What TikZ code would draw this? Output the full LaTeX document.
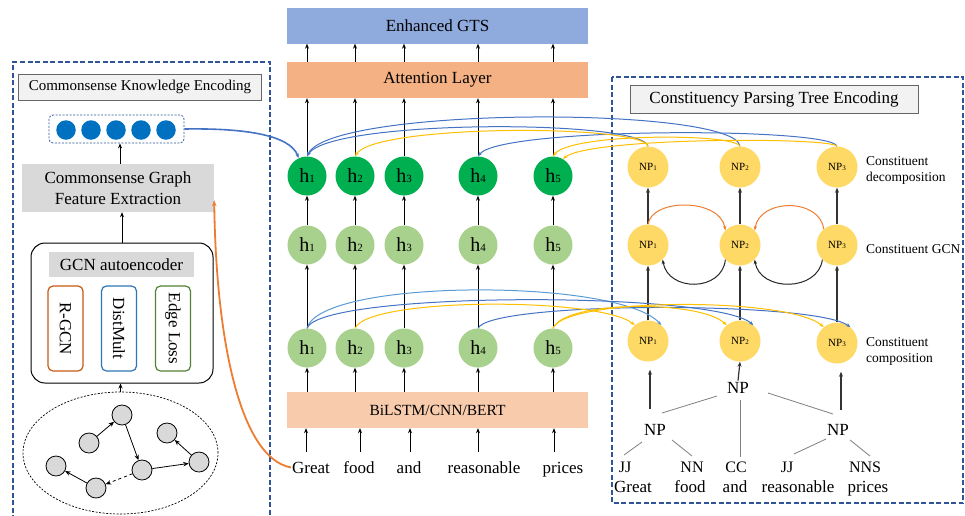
\documentclass[tikz,border=0pt]{standalone}
\usepackage{fontspec}
\setmainfont{Liberation Serif}
\usetikzlibrary{arrows.meta,shapes.geometric}
\definecolor{gtsblue}{HTML}{8FAADC}
\definecolor{attor}{HTML}{F4B183}
\definecolor{bilor}{HTML}{F8CBAD}
\definecolor{dgreen}{HTML}{00B050}
\definecolor{lgreen}{HTML}{A9D18E}
\definecolor{npyel}{HTML}{FFD966}
\definecolor{boxblue}{HTML}{2F5597}
\definecolor{dotblue}{HTML}{0070C0}
\definecolor{cblue}{HTML}{4472C4}
\definecolor{lblue}{HTML}{5B9BD5}
\definecolor{cyel}{HTML}{FFC000}
\definecolor{corange}{HTML}{ED7D31}
\definecolor{lgray}{HTML}{F2F2F2}
\definecolor{mgray}{HTML}{D9D9D9}
\definecolor{rgcn}{HTML}{C55A11}
\definecolor{dmult}{HTML}{2E75B6}
\definecolor{eloss}{HTML}{548235}
\newcommand{\myfs}[1]{\fontsize{#1}{#1}\selectfont}
\newcommand{\hlab}[1]{h{\myfs{11}#1}}
\newcommand{\nplab}[1]{NP{\myfs{7}#1}}
\begin{document}
\begin{tikzpicture}[x=1pt,y=-1pt,
  arr/.style={-{Stealth[length=5pt,width=4pt]},line width=1pt},
  carr/.style={-{Stealth[length=4.5pt,width=3.5pt]},line width=1pt},
  varr/.style={-{Stealth[length=5pt,width=4pt]},line width=1.2pt,draw=black!80},
  layer/.style={minimum width=301pt,minimum height=36pt,inner sep=0pt,font=\myfs{17}},
  hdark/.style={circle,fill=dgreen,minimum size=39pt,inner sep=0pt,font=\myfs{20}},
  hlight/.style={circle,fill=lgreen,minimum size=39pt,inner sep=0pt,font=\myfs{20}},
  npn/.style={circle,fill=npyel,minimum size=41pt,inner sep=0pt,font=\myfs{11}},
  word/.style={anchor=base,font=\myfs{17},inner sep=1pt},
  ptag/.style={anchor=base,font=\myfs{16},inner sep=1pt},
  dbox/.style={draw=boxblue,line width=1.8pt,dash pattern=on 5pt off 2.5pt},
  titlebox/.style={draw=black!60,fill=lgray,line width=0.8pt,inner sep=0pt},
  gnode/.style={circle,draw=black,line width=0.8pt,fill=mgray,minimum size=20pt,inner sep=0pt},
  gedge/.style={-{Stealth[length=5.5pt,width=4.5pt]},line width=0.8pt},
  treeline/.style={draw=black!50,line width=0.8pt},
  sidelab/.style={anchor=west,align=left,font=\fontsize{13.5}{16}\selectfont,inner sep=0pt},
  vbox/.style={rounded corners=5pt,line width=1.2pt,rotate=-90,minimum width=85pt,minimum height=35pt,inner sep=0pt,font=\myfs{17}}
]
\useasboundingbox (0,0) rectangle (965,515);
\fill[white] (0,0) rectangle (965,515);

% ---------------- left panel ----------------
\draw[dbox] (13,520) -- (13,62) -- (270,62) -- (270,520);
\node[titlebox,minimum width=243pt,minimum height=26pt,font=\myfs{15}] (cke) at (140,87) {Commonsense Knowledge Encoding};
\node[draw=boxblue,dash pattern=on 2pt off 1.5pt,line width=0.8pt,rounded corners=4pt,minimum width=135pt,minimum height=28pt] (dots) at (116.5,129) {};
\foreach \i/\x in {1/66,2/91,3/116,4/141,5/166}
  \node[circle,fill=dotblue,minimum size=19.5pt,inner sep=0pt] (dot\i) at (\x,130) {};
\node[fill=mgray,minimum width=192pt,minimum height=48pt,align=center,font=\fontsize{17}{21}\selectfont,inner sep=0pt] (fe) at (118,188) {Commonsense Graph\\Feature Extraction};
\draw[arr] ([xshift=2pt]fe.north) -- ([xshift=2pt]fe.north |- dots.south);

\node[draw,line width=1pt,rounded corners=14pt,minimum width=182pt,minimum height=140pt] (gcn) at (122,313) {};
\node[fill=mgray,minimum width=145pt,minimum height=25pt,font=\myfs{17},inner sep=0pt] (gcnl) at (121.5,264.5) {GCN autoencoder};
\node[vbox,draw=rgcn] (rg) at (65.5,328.5) {R-GCN};
\node[vbox,draw=dmult] (dm) at (119,328.5) {DistMult};
\node[vbox,draw=eloss] (el) at (173,328.5) {Edge Loss};
\draw[arr] (gcn.north) -- (gcn.north |- fe.south);

\node[ellipse,draw,dash pattern=on 2pt off 1.5pt,line width=0.7pt,minimum width=195pt,minimum height=122pt,inner sep=0pt] (kg) at (120.5,453) {};
\draw[arr] (kg.north) -- (kg.north |- gcn.south);
\node[gnode] (ga) at (122,415) {};
\node[gnode] (gb) at (89,443) {};
\node[gnode] (gc) at (167,433) {};
\node[gnode] (gd) at (142,470) {};
\node[gnode] (ge) at (199,462) {};
\node[gnode] (gf) at (56,466) {};
\node[gnode] (gg) at (96,488) {};
\draw[gedge] (gb) -- (ga);
\draw[gedge] (ga) -- (gd);
\draw[gedge] (gd) -- (ge);
\draw[gedge] (ge) -- (gc);
\draw[gedge] (gg) -- (gf);
\draw[gedge,dashed] (gd) -- (gg);

% ---------------- middle ----------------
\node[layer,fill=gtsblue] (gts) at (437.5,25.5) {Enhanced GTS};
\node[layer,fill=attor] (att) at (437.5,80) {Attention Layer};
\node[layer,fill=bilor,font=\myfs{15.5}] (bil) at (437.5,410) {BiLSTM/CNN/BERT};

\foreach \i/\x in {1/307,2/355,3/404,4/478,5/553}{
  \node[hdark] (k\i) at (\x,176) {\hlab{\i}};
  \node[hlight] (m\i) at (\x,245) {\hlab{\i}};
  \node[hlight] (b\i) at (\x,348) {\hlab{\i}};
  \draw[arr] (b\i |- bil.north) -- (b\i.south);
  \draw[arr] (b\i.north) -- (m\i.south);
  \draw[arr] (m\i.north) -- (k\i.south);
  \draw[arr] (k\i.north) -- (k\i |- att.south);
  \draw[arr] (k\i |- att.north) -- (k\i |- gts.south);
}
\node[word] (w1) at (311,473) {Great};
\node[word] (w2) at (359,473) {food};
\node[word] (w3) at (409,473) {and};
\node[word] (w4) at (484,473) {reasonable};
\node[word] (w5) at (563,473) {prices};
\foreach \i/\x in {1/306,2/360,3/410,4/478,5/554}{
  \coordinate (t\i) at (\x,452);
  \draw[arr] (t\i) -- (t\i |- bil.south);
}

% ---------------- right panel ----------------
\draw[dbox] (612,77) rectangle (963,503);
\node[titlebox,minimum width=288pt,minimum height=28pt,font=\myfs{17}] (cpt) at (774,99) {Constituency Parsing Tree Encoding};
\node[npn] (n1d) at (648,167) {\nplab{1}};
\node[npn] (n2d) at (740,167) {\nplab{2}};
\node[npn] (n3d) at (837,167) {\nplab{3}};
\node[npn] (g1) at (648,245) {\nplab{1}};
\node[npn] (g2) at (740,245) {\nplab{2}};
\node[npn] (g3) at (837,245) {\nplab{3}};
\node[npn] (c1) at (648,341) {\nplab{1}};
\node[npn] (c2) at (740,341) {\nplab{2}};
\node[npn] (c3) at (837,343) {\nplab{3}};
\foreach \i in {1,2,3}{
  \draw[varr] (g\i.north) -- (n\i d.south);
  \draw[varr] (c\i.north) -- (g\i.south);
}
\node[sidelab] (lab1) at (866,170) {Constituent\\decomposition};
\node[sidelab] (lab2) at (866,249) {Constituent GCN};
\node[sidelab] (lab3) at (866,351) {Constituent\\composition};

% GCN interactions
\draw[carr,corange] (g1.north) .. controls (652,198) and (720,198) .. (g2.135);
\draw[carr,corange] (g3.130) .. controls (820,198) and (760,198) .. (g2.45);
\draw[carr,black!85] (g2.225) .. controls (722,292) and (668,292) .. (g1.315);
\draw[carr,black!85] (g3.225) .. controls (818,292) and (760,292) .. (g2.315);

% parse tree
\node[word] (tnp) at (738,393) {NP};
\node[word] (tnpl) at (655,435) {NP};
\node[word] (tnpr) at (838,435) {NP};
\node[ptag] (tjj) at (625,472) {JJ};
\node[ptag] (tnn) at (692,472) {NN};
\node[ptag] (tcc) at (736,472) {CC};
\node[ptag] (tjj2) at (787,472) {JJ};
\node[ptag] (tnns) at (865,472) {NNS};
\node[word] (pw1) at (633,492) {Great};
\node[word] (pw2) at (690,492) {food};
\node[word] (pw3) at (735,492) {and};
\node[word] (pw4) at (798,492) {reasonable};
\node[word] (pw5) at (868,492) {prices};
\draw[treeline] ([shift={(-21,3)}]tnp.base) -- ([shift={(7,-22)}]tnpl.base);
\draw[treeline] ([shift={(2,7)}]tnp.base) -- ([shift={(4,-15)}]tcc.base);
\draw[treeline] ([shift={(30,0)}]tnp.base) -- ([shift={(-5,-21)}]tnpr.base);
\draw[treeline] ([shift={(-13,7)}]tnpl.base) -- ([shift={(-1,-17)}]tjj.base);
\draw[treeline] ([shift={(17,5)}]tnpl.base) -- ([shift={(0,-16)}]tnn.base);
\draw[treeline] ([shift={(-12,4)}]tnpr.base) -- ([shift={(7,-18)}]tjj2.base);
\draw[treeline] ([shift={(12,5)}]tnpr.base) -- ([shift={(5,-16)}]tnns.base);
\draw[varr] (tnp.north) -- (c2.south);
\coordinate (u1) at (650,409);
\coordinate (u3) at (841,410);
\draw[varr,shorten >=8pt] (u1) -- (u1 |- c1.south);
\draw[varr,shorten >=8pt] (u3) -- (u3 |- c3.south);

% ---------------- cross connections ----------------
% decomposition -> dark h
\draw[carr,cblue] (n2d.north) .. controls (735,106) and (330,106) .. (k1.north);
\draw[carr,cblue] (n1d.north) .. controls (643,119) and (330,119) .. (k1.north);
\draw[carr,cblue] (n3d.north) .. controls (832,127) and (500,127) .. (k4.north);
\draw[carr,cyel] (n1d.north) .. controls (643,124) and (375,124) .. (k2.north);
\draw[carr,cyel] (n2d.north) .. controls (735,133) and (570,133) .. (k5.north);
\draw[carr,cyel] (n3d.north) .. controls (832,137) and (590,137) .. (k5.60);
% commonsense -> h1
\draw[carr,cblue,line width=1.6pt] (dots.east) .. controls (245,128) and (290,135) .. (k1.115);
% light h -> composition
\draw[carr,lblue] (b1.north) .. controls (320,278) and (620,278) .. (c1.50);
\draw[carr,cblue] (b1.north) .. controls (320,291) and (715,291) .. (c2.50);
\draw[carr,cblue] (b4.north) .. controls (490,301) and (815,301) .. (c3.50);
\draw[carr,cyel] (b2.north) .. controls (368,297) and (600,297) .. (c1.130);
\draw[carr,cyel] (b5.north) .. controls (565,300) and (700,300) .. (c2.130);
\draw[carr,cyel] (b5.north) .. controls (565,297) and (790,297) .. (c3.130);
% word -> feature extraction
\draw[-{Stealth[length=6pt,width=4.5pt]},corange,line width=1.8pt] (w1.west) .. controls (240,458) and (216,340) .. ([yshift=12pt]fe.south east);
\end{tikzpicture}
\end{document}
